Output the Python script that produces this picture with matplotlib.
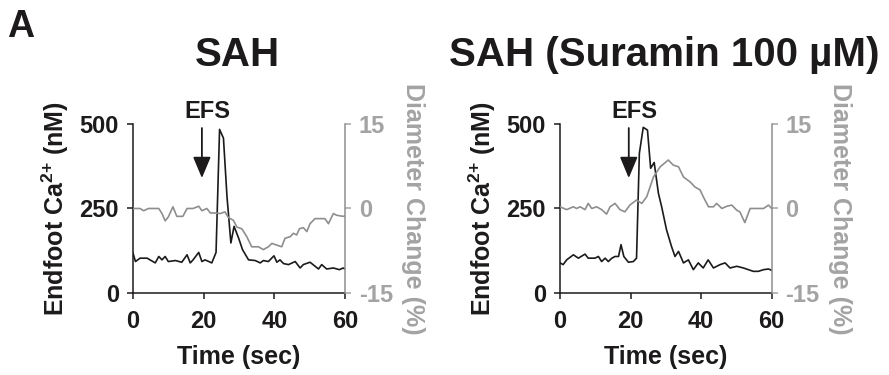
import matplotlib
matplotlib.use('Agg')
import matplotlib.pyplot as plt
from matplotlib.patches import ArrowStyle

plt.rcParams['font.family'] = ['Liberation Sans', 'DejaVu Sans']
plt.rcParams['font.weight'] = 'bold'
plt.rcParams['axes.labelweight'] = 'bold'
plt.rcParams['axes.unicode_minus'] = False
plt.rcParams['mathtext.fontset'] = 'custom'
plt.rcParams['mathtext.rm'] = 'Liberation Sans:bold'
plt.rcParams['mathtext.bf'] = 'Liberation Sans:bold'

BLACK = '#1c1a1a'
GRAY_LINE = '#8e8e8e'
GRAY_TEXT = '#a3a3a3'

# --- data: SAH ---
sah_ca_t = [0, 0.7, 2, 4, 6.3, 7.3, 8.2, 9.1, 10, 12, 13.8, 15.3, 16.2, 17, 18.6, 19.5,
            20.4, 22.3, 23.5, 24.5, 25.6, 26.6, 27.7, 28.6, 29.9, 31, 32.7, 34.6, 36,
            36.9, 38.3, 39.9, 40.7, 41.6, 42.6, 44, 45.9, 47.3, 48.2, 50.1, 52.5, 53.4,
            54.8, 56.7, 58.4, 59.5, 60]
sah_ca = [118, 93, 103, 103, 89, 108, 98, 108, 93, 96, 91, 113, 89, 98, 120, 93, 98, 89,
          120, 484, 458, 285, 148, 197, 162, 128, 98, 96, 89, 96, 93, 110, 91, 98, 87, 84,
          93, 74, 84, 91, 71, 84, 71, 74, 69, 74, 71]
sah_diam_t = [0, 2, 3, 4.4, 7.3, 8.2, 9.1, 10, 11.3, 12.4, 14.1, 15.3, 17, 18.6, 19.5,
              20.9, 21.9, 23.3, 24.7, 26, 27, 28.4, 29.4, 30.8, 32.2, 33.6, 35.5, 36.9,
              38.3, 39.3, 40.7, 42.1, 43, 44.5, 45.4, 46.3, 47.1, 48.2, 49.2, 50.1, 51.5,
              52.9, 54.3, 55.3, 56.7, 57.6, 59.5, 60]
sah_diam = [0, 0, -0.4, 0, 0, -0.9, -2.2, -1.5, 0.3, -1.4, -1.4, 0, 0, 0.4, -0.4, 0, -0.8,
            -0.8, -0.9, -0.6, -1.6, -2.1, -3.3, -3.6, -5.0, -6.8, -6.8, -7.3, -6.8, -6.2,
            -6.5, -6.8, -5.3, -5.0, -4.4, -4.7, -3.6, -3.4, -4.1, -2.7, -1.8, -1.8, -1.8,
            -2.7, -0.9, -1.2, -1.4, -1.3]

# --- data: SAH + suramin ---
sur_ca_t = [0, 0.9, 1.9, 3.8, 5.2, 7.1, 8, 9.9, 10.9, 11.8, 12.8, 13.7, 14.7, 15.6, 16.6,
            17.3, 18.1, 19.4, 20.8, 21.7, 22.5, 23.6, 24.8, 25.7, 26.7, 27.9, 28.8, 30.2,
            31.6, 32.6, 33.6, 35, 36.4, 37.8, 39.2, 40.6, 42, 43.5, 45.4, 46.8, 48.2,
            50.1, 52, 53.4, 54.8, 56.2, 57.7, 59.1, 60]
sur_ca = [89, 84, 98, 113, 103, 115, 103, 103, 108, 93, 103, 93, 103, 108, 108, 143, 108,
          91, 93, 103, 413, 490, 482, 369, 386, 295, 256, 187, 138, 108, 123, 89, 98, 69,
          89, 74, 98, 74, 84, 89, 74, 79, 74, 69, 64, 64, 69, 71, 67]
sur_diam_t = [0, 1.9, 3.8, 4.7, 5.7, 7.1, 8, 9, 10.4, 11.8, 13.2, 14.2, 15.6, 17, 18.4,
              19.8, 21.7, 23.2, 24.6, 26.5, 28.4, 30.7, 32.1, 33.6, 35, 36.9, 38.3, 39.7,
              40.6, 42.1, 43.5, 44.4, 45.9, 47.3, 48.7, 50.1, 51, 52.4, 53.9, 56.7, 57.7,
              59.1, 60]
sur_diam = [0.3, -0.2, 0.3, 0, 0.3, -0.2, 0.9, 0, 0.3, -0.2, -1.0, 0.3, 0.9, -0.2, -0.6,
            0.6, 1.5, 0.9, 2.1, 5.6, 7.4, 8.6, 7.7, 7.4, 5.6, 4.7, 3.8, 3.3, 2.1, 0.3, 0.3,
            0.9, 0, 0.4, 0.6, -0.3, -0.6, -2.5, 0, 0, 0, 0.6, 0]

titles = ['SAH', 'SAH (Suramin 100 µM)']
time_ticks = [0, 20, 40, 60]
ca_ticks = [0, 250, 500]
diam_ticks = [-15, 0, 15]
efs_time = 19.5

fig = plt.figure(figsize=(8.89, 3.75), dpi=100)


def draw_panel(rect, t_ca, ca, t_d, diam, title, title_x):
    ax = fig.add_axes(rect)
    ax.plot(t_ca, ca, color=BLACK, lw=1.2, zorder=3)
    ax.set_xlim(0, 60)
    ax.set_ylim(0, 500)
    ax.set_xticks(time_ticks)
    ax.set_yticks(ca_ticks)
    ax.tick_params(axis='both', direction='out', length=4, width=1.1,
                   labelsize=17, colors=BLACK, pad=6)
    ax.tick_params(axis='x', pad=8)
    ax.spines['top'].set_visible(False)
    ax.spines['right'].set_visible(False)
    for s in ['left', 'bottom']:
        ax.spines[s].set_linewidth(1.1)
        ax.spines[s].set_color(BLACK)
    ax.set_xlabel('Time (sec)', fontsize=18, color=BLACK, labelpad=9)
    ax.set_ylabel(r'Endfoot Ca$^{\mathbf{2{+}}}$ (nM)', fontsize=18, color=BLACK,
                  labelpad=6)

    # diameter on the right axis
    axr = ax.twinx()
    axr.plot(t_d, diam, color=GRAY_LINE, lw=1.2)
    axr.set_ylim(-15, 15)
    axr.set_yticks(diam_ticks)
    axr.tick_params(axis='y', direction='out', length=4, width=1.1,
                    labelsize=17, colors=GRAY_TEXT, pad=6)
    for s in ['top', 'left', 'bottom']:
        axr.spines[s].set_visible(False)
    axr.spines['right'].set_color(GRAY_LINE)
    axr.spines['right'].set_linewidth(1.1)
    axr.set_ylabel('Diameter Change (%)', fontsize=18, color=GRAY_TEXT,
                   rotation=270, va='bottom', labelpad=6)

    # EFS stimulus arrow
    ax.annotate('', xy=(efs_time, 340), xytext=(efs_time, 488),
                arrowprops=dict(arrowstyle=ArrowStyle('-|>', head_length=1.0, head_width=0.42),
                                mutation_scale=13, color=BLACK, lw=1.3, shrinkA=0, shrinkB=0),
                annotation_clip=False)
    ax.text(efs_time + 1.5, 538, 'EFS', fontsize=17, ha='center', va='center',
            color=BLACK, clip_on=False)

    fig.text(title_x, 0.824, title, fontsize=29, ha='center', va='baseline', color=BLACK)
    return ax


draw_panel([0.1496, 0.2187, 0.2385, 0.4507], sah_ca_t, sah_ca, sah_diam_t, sah_diam,
           titles[0], 0.2666)
draw_panel([0.6299, 0.2187, 0.2381, 0.4507], sur_ca_t, sur_ca, sur_diam_t, sur_diam,
           titles[1], 0.747)

fig.text(0.008, 0.901, 'A', fontsize=27, ha='left', va='baseline', color=BLACK)

fig.savefig('out.png', dpi=100)
